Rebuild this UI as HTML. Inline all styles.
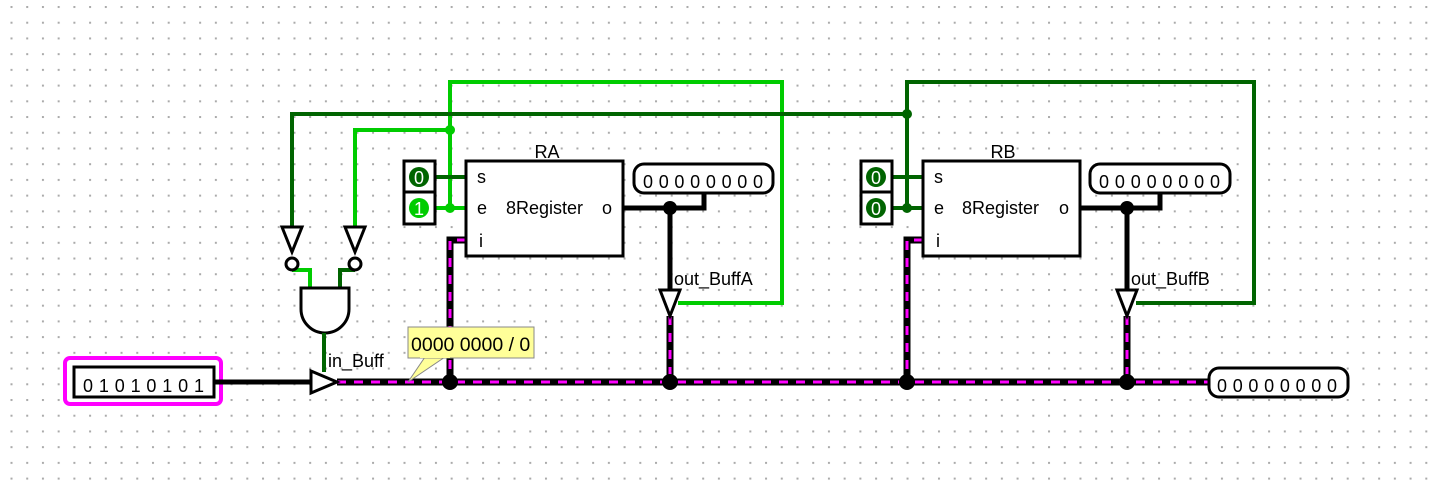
<!DOCTYPE html>
<html><head><meta charset="utf-8"><style>
html,body{margin:0;padding:0;background:#fff;}
svg{display:block;font-family:"Liberation Sans",sans-serif;}
.d{font-size:18px;text-anchor:middle;}
</style></head><body>
<svg width="1440" height="492" viewBox="0 0 1440 492" xmlns="http://www.w3.org/2000/svg">
<defs>
<pattern id="g" x="10.5" y="6" width="15.72" height="15.72" patternUnits="userSpaceOnUse">
<rect x="0" y="0" width="2" height="2" fill="#aaa"/>
</pattern>
</defs>
<rect width="1440" height="492" fill="#fff"/>
<rect width="1440" height="492" fill="url(#g)"/>

<polyline points="678,303 782,303 782,82 450,82 450,208" fill="none" stroke="#00cc00" stroke-width="4"/>
<polyline points="450,130 355,130 355,228" fill="none" stroke="#00cc00" stroke-width="4"/>
<line x1="430" y1="208" x2="466" y2="208" stroke="#00cc00" stroke-width="4"/>
<circle cx="450" cy="130" r="5" fill="#00cc00"/>
<circle cx="450" cy="208" r="5" fill="#00cc00"/>

<polyline points="907,114 292,114 292,228" fill="none" stroke="#006400" stroke-width="4"/>
<polyline points="1136,303 1254,303 1254,82 907,82 907,208" fill="none" stroke="#006400" stroke-width="4"/>
<line x1="430" y1="177" x2="466" y2="177" stroke="#006400" stroke-width="4"/>
<line x1="887" y1="177" x2="923" y2="177" stroke="#006400" stroke-width="4"/>
<line x1="887" y1="208" x2="923" y2="208" stroke="#006400" stroke-width="4"/>
<circle cx="907" cy="114" r="5" fill="#006400"/>
<circle cx="907" cy="208" r="5" fill="#006400"/>

<polyline points="292,270 310,270 310,290" fill="none" stroke="#00cc00" stroke-width="4"/>
<polyline points="355,270 340,270 340,290" fill="none" stroke="#006400" stroke-width="4"/>
<polygon points="282,227 302,227 292,252" fill="#fff" stroke="#000" stroke-width="3"/>
<circle cx="292" cy="264" r="6" fill="#fff" stroke="#000" stroke-width="3"/>
<polygon points="345,227 365,227 355,252" fill="#fff" stroke="#000" stroke-width="3"/>
<circle cx="355" cy="264" r="6" fill="#fff" stroke="#000" stroke-width="3"/>

<path d="M301,288 L349,288 L349,309 A24,24 0 0 1 301,309 Z" fill="#fff" stroke="#000" stroke-width="3"/>
<line x1="324" y1="333" x2="324" y2="372" stroke="#006400" stroke-width="4"/>
<text x="328" y="367" font-size="18">in_Buff</text>

<rect x="65" y="358" width="156" height="46" rx="5" fill="#fff" stroke="#ff00ff" stroke-width="4"/>
<rect x="74" y="367" width="140" height="30" fill="#fff" stroke="#000" stroke-width="3"/>
<text class="d" x="88 103.9 119.7 135.6 151.4 167.3 183.1 199" y="392">01010101</text>
<line x1="214" y1="382" x2="312" y2="382" stroke="#000" stroke-width="5"/>

<line x1="337" y1="382" x2="1208" y2="382" stroke="#000" stroke-width="7"/>
<line x1="337" y1="382" x2="1208" y2="382" stroke="#ff00ff" stroke-width="3" stroke-dasharray="9,8"/>
<polyline points="466,240 450,240 450,382" fill="none" stroke="#000" stroke-width="7"/>
<polyline points="466,240 450,240 450,382" fill="none" stroke="#ff00ff" stroke-width="3" stroke-dasharray="9,8"/>
<polyline points="923,240 907,240 907,382" fill="none" stroke="#000" stroke-width="7"/>
<polyline points="923,240 907,240 907,382" fill="none" stroke="#ff00ff" stroke-width="3" stroke-dasharray="9,8"/>
<line x1="670" y1="316" x2="670" y2="382" stroke="#000" stroke-width="7"/>
<line x1="670" y1="316" x2="670" y2="382" stroke="#ff00ff" stroke-width="3" stroke-dasharray="9,8"/>
<line x1="1127" y1="316" x2="1127" y2="382" stroke="#000" stroke-width="7"/>
<line x1="1127" y1="316" x2="1127" y2="382" stroke="#ff00ff" stroke-width="3" stroke-dasharray="9,8"/>

<polygon points="311,371 311,393 337,382" fill="#fff" stroke="#000" stroke-width="3"/>

<polygon points="425,357 445,357 408,382" fill="#ffff99" stroke="#888" stroke-width="1"/>
<rect x="408" y="327" width="126" height="31" fill="#ffff99" stroke="#888" stroke-width="1"/>
<rect x="420" y="355" width="30" height="3" fill="#ffff99"/>
<text x="411" y="351" font-size="19.5">0000 0000 / 0</text>

<rect x="466" y="161" width="157" height="95" fill="#fff" stroke="#000" stroke-width="3"/>
<text x="547" y="158" font-size="18" text-anchor="middle">RA</text>
<text x="477" y="183" font-size="18">s</text>
<text x="477" y="214" font-size="18">e</text>
<text x="479" y="247" font-size="18">i</text>
<text x="506" y="214" font-size="18">8Register</text>
<text x="602" y="214" font-size="18">o</text>
<rect x="404" y="161" width="31" height="31" fill="#fff" stroke="#000" stroke-width="3"/>
<rect x="404" y="192" width="31" height="32" fill="#fff" stroke="#000" stroke-width="3"/>
<circle cx="419" cy="177" r="10" fill="#006400"/>
<circle cx="419" cy="208" r="10" fill="#00cc00"/>
<text x="419" y="184" font-size="18" fill="#fff" text-anchor="middle">0</text>
<text x="419" y="215" font-size="18" fill="#fff" text-anchor="middle">1</text>
<polyline points="623,208 704,208 704,192" fill="none" stroke="#000" stroke-width="5"/>
<line x1="670" y1="208" x2="670" y2="290" stroke="#000" stroke-width="5"/>
<circle cx="670" cy="208" r="7" fill="#000"/>
<rect x="634" y="164" width="139" height="29" rx="10" fill="#fff" stroke="#000" stroke-width="3"/>
<text class="d" x="648 663.7 679.4 695.1 710.9 726.6 742.3 758" y="188">00000000</text>
<polygon points="660,290 680,290 670,316" fill="#fff" stroke="#000" stroke-width="3"/>
<text x="674" y="285" font-size="18">out_BuffA</text>

<rect x="923" y="161" width="157" height="95" fill="#fff" stroke="#000" stroke-width="3"/>
<text x="1003" y="158" font-size="18" text-anchor="middle">RB</text>
<text x="934" y="183" font-size="18">s</text>
<text x="934" y="214" font-size="18">e</text>
<text x="936" y="247" font-size="18">i</text>
<text x="962" y="214" font-size="18">8Register</text>
<text x="1059" y="214" font-size="18">o</text>
<rect x="861" y="161" width="31" height="31" fill="#fff" stroke="#000" stroke-width="3"/>
<rect x="861" y="192" width="31" height="32" fill="#fff" stroke="#000" stroke-width="3"/>
<circle cx="876" cy="177" r="10" fill="#006400"/>
<circle cx="876" cy="208" r="10" fill="#006400"/>
<text x="876" y="184" font-size="18" fill="#fff" text-anchor="middle">0</text>
<text x="876" y="215" font-size="18" fill="#fff" text-anchor="middle">0</text>
<polyline points="1080,208 1160,208 1160,192" fill="none" stroke="#000" stroke-width="5"/>
<line x1="1127" y1="208" x2="1127" y2="290" stroke="#000" stroke-width="5"/>
<circle cx="1127" cy="208" r="7" fill="#000"/>
<rect x="1090" y="164" width="140" height="29" rx="10" fill="#fff" stroke="#000" stroke-width="3"/>
<text class="d" x="1104 1119.9 1135.7 1151.6 1167.4 1183.3 1199.1 1215" y="188">00000000</text>
<polygon points="1117,290 1137,290 1127,316" fill="#fff" stroke="#000" stroke-width="3"/>
<text x="1131" y="285" font-size="18">out_BuffB</text>

<circle cx="450" cy="382" r="8" fill="#000"/>
<circle cx="670" cy="382" r="8" fill="#000"/>
<circle cx="907" cy="382" r="8" fill="#000"/>
<circle cx="1127" cy="382" r="8" fill="#000"/>

<rect x="1209" y="368" width="139" height="29" rx="10" fill="#fff" stroke="#000" stroke-width="3"/>
<text class="d" x="1222 1237.7 1253.4 1269.1 1284.9 1300.6 1316.3 1332" y="392">00000000</text>
</svg>
</body></html>
